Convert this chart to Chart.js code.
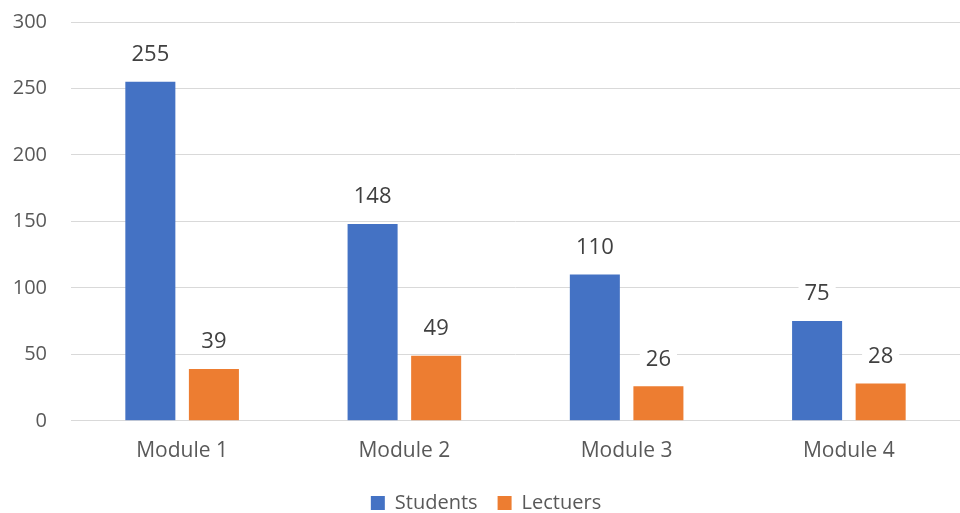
<!DOCTYPE html>
<html>
<head>
<meta charset="utf-8">
<script src="https://cdn.jsdelivr.net/npm/chart.js@4.4.1/dist/chart.umd.min.js"></script>
<style>
  html, body { margin: 0; padding: 0; background: #fff; overflow: hidden; }
  #wrap { width: 960px; height: 513px; }
</style>
</head>
<body>
<div id="wrap"><canvas id="chartModules"></canvas></div>
<script>
var modules = ['Module 1', 'Module 2', 'Module 3', 'Module 4'];
var students = [255, 148, 110, 75];
var lecturers = [39, 49, 26, 28];
var yTicks = [0, 50, 100, 150, 200, 250, 300];

// value labels above bars, white box behind them
var barLabels = {
    id: 'barLabels',
    afterDatasetsDraw: function(chart) {
        var ctx = chart.ctx;
        ctx.save();
        ctx.font = '22px "Open Sans", sans-serif';
        ctx.textAlign = 'center';
        ctx.textBaseline = 'middle';
        chart.data.datasets.forEach(function(ds, i) {
            var meta = chart.getDatasetMeta(i);
            meta.data.forEach(function(bar, j) {
                var txt = String(ds.data[j]);
                var w = ctx.measureText(txt).width + 12;
                var cy = bar.y - 28;
                ctx.fillStyle = '#ffffff';
                ctx.fillRect(bar.x - w / 2, cy - 13, w, 26);
                ctx.fillStyle = '#404040';
                ctx.fillText(txt, bar.x, cy + 1);
            });
        });
        ctx.restore();
    }
};

var ctx = document.getElementById('chartModules');
var myBarChart = new Chart(ctx, {
    type: 'bar',
    data: {
        labels: modules,
        datasets: [{
            label: 'Students',
            data: students,
            backgroundColor: '#4472C4',
            categoryPercentage: 0.572,
            barPercentage: 0.787
        }, {
            label: 'Lectuers',
            data: lecturers,
            backgroundColor: '#ED7D31',
            categoryPercentage: 0.572,
            barPercentage: 0.787
        }]
    },
    plugins: [barLabels],
    options: {
        responsive: true,
        maintainAspectRatio: false,
        animation: false,
        layout: { padding: { top: 22, right: -12, left: 0, bottom: -10 } },
        plugins: {
            tooltip: { enabled: false },
            legend: {
                position: 'bottom',
                labels: {
                    boxWidth: 14,
                    boxHeight: 14,
                    padding: 20,
                    color: '#595959',
                    font: { family: '"Open Sans", sans-serif', size: 20 }
                }
            }
        },
        scales: {
            x: {
                grid: { display: false },
                border: { color: '#d9d9d9' },
                afterFit: function(scale) { scale.height -= 1; },
                ticks: {
                    color: '#595959',
                    padding: 10,
                    font: { family: '"Open Sans", sans-serif', size: 21 }
                }
            },
            y: {
                min: 0,
                max: 300,
                afterBuildTicks: function(scale) {
                    scale.ticks = yTicks.map(function(v) { return { value: v }; });
                },
                afterFit: function(scale) {
                    scale.width = 71;
                    scale.paddingTop = 0;
                    scale.paddingBottom = 0;
                },
                grid: { color: '#d9d9d9', drawTicks: false },
                border: { display: false },
                ticks: {
                    color: '#595959',
                    padding: 24,
                    font: { family: '"Open Sans", sans-serif', size: 20 }
                }
            }
        }
    }
});
</script>
</body>
</html>
